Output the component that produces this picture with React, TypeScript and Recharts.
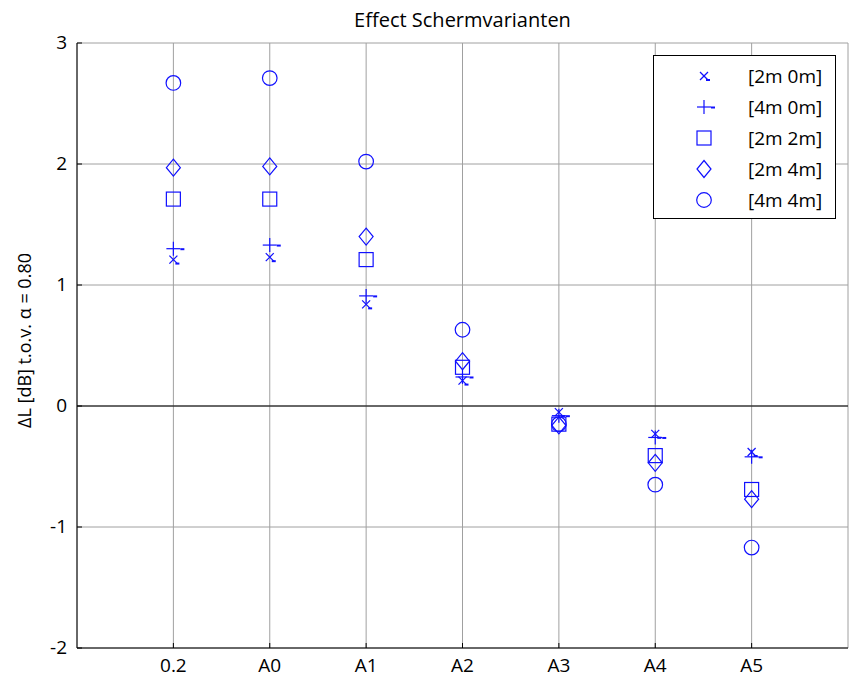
import React from "react";
import {
  ScatterChart,
  Scatter,
  XAxis,
  YAxis,
  CartesianGrid,
  ReferenceLine,
  Label,
} from "recharts";

const categories = ["0.2", "A0", "A1", "A2", "A3", "A4", "A5"];
const xTicks = [1, 2, 3, 4, 5, 6, 7];
const yTicks = [-2, -1, 0, 1, 2, 3];

// values, one per category
const s2m0m = [1.21, 1.23, 0.84, 0.21, -0.05, -0.23, -0.38];
const s4m0m = [1.3, 1.33, 0.91, 0.24, -0.08, -0.26, -0.42];
const s2m2m = [1.71, 1.71, 1.21, 0.32, -0.15, -0.41, -0.69];
const s2m4m = [1.97, 1.98, 1.4, 0.37, -0.16, -0.47, -0.77];
const s4m4m = [2.67, 2.71, 2.02, 0.63, -0.15, -0.65, -1.17];

const BLUE = "#1010ff";
const FONT = "'Open Sans', sans-serif";

const toPoints = (vals: number[]) =>
  categories.map((c, i) => ({ x: i + 1, y: vals[i], name: c }));

type Mark = "x" | "plus" | "square" | "diamond" | "circle";

function Marker({ cx, cy, kind }: { cx: number; cy: number; kind: Mark }) {
  const p = { stroke: BLUE, strokeWidth: 1.2, fill: "none" };
  if (kind === "x")
    return (
      <g {...p}>
        <line x1={cx - 4} y1={cy - 4} x2={cx + 4} y2={cy + 4} />
        <line x1={cx - 4} y1={cy + 4} x2={cx + 4} y2={cy - 4} />
        <line x1={cx + 2} y1={cy + 4} x2={cx + 6} y2={cy + 4} strokeWidth={2} />
      </g>
    );
  if (kind === "plus")
    return (
      <g {...p}>
        <line x1={cx - 7} y1={cy} x2={cx + 7} y2={cy} />
        <line x1={cx} y1={cy - 7} x2={cx} y2={cy + 7} />
        <line x1={cx + 7} y1={cy + 0.5} x2={cx + 11} y2={cy + 0.5} strokeWidth={2} />
      </g>
    );
  if (kind === "square")
    return <rect x={cx - 7} y={cy - 7} width={14} height={14} {...p} />;
  if (kind === "diamond")
    return (
      <polygon
        points={`${cx},${cy - 8.5} ${cx + 7},${cy} ${cx},${cy + 8.5} ${cx - 7},${cy}`}
        {...p}
      />
    );
  return <circle cx={cx} cy={cy} r={7.3} {...p} />;
}

const shapeOf = (kind: Mark) => (props: any) =>
  <Marker cx={props.cx} cy={props.cy} kind={kind} />;

function BottomTick({ x, y, payload }: any) {
  return (
    <g>
      <line x1={x} y1={y} x2={x} y2={y - 5} stroke="#000" />
      <text
        x={x}
        y={y + 24}
        textAnchor="middle"
        fontSize={19}
        fontFamily={FONT}
        fill="#000"
      >
        {categories[payload.value - 1]}
      </text>
    </g>
  );
}

function TopTick({ x, y }: any) {
  return <line x1={x} y1={y} x2={x} y2={y + 5} stroke="#000" />;
}

function LeftTick({ x, y, payload }: any) {
  return (
    <g>
      <line x1={x} y1={y} x2={x + 5} y2={y} stroke="#000" />
      <text
        x={x - 10}
        y={y + 6}
        textAnchor="end"
        fontSize={19}
        fontFamily={FONT}
        fill="#000"
      >
        {payload.value}
      </text>
    </g>
  );
}

function RightTick({ x, y }: any) {
  return <line x1={x} y1={y} x2={x - 5} y2={y} stroke="#000" />;
}

const legendItems: { label: string; kind: Mark }[] = [
  { label: "[2m 0m]", kind: "x" },
  { label: "[4m 0m]", kind: "plus" },
  { label: "[2m 2m]", kind: "square" },
  { label: "[2m 4m]", kind: "diamond" },
  { label: "[4m 4m]", kind: "circle" },
];

export default function App() {
  return (
    <div
      style={{
        position: "absolute",
        left: 0,
        top: 0,
        width: 852,
        height: 678,
        background: "#fff",
        fontFamily: FONT,
      }}
    >
      {/* Title */}
      <div
        style={{
          position: "absolute",
          left: 77,
          width: 771,
          top: 6,
          textAlign: "center",
          fontSize: 20,
          lineHeight: "28px",
          color: "#000",
        }}
      >
        Effect Schermvarianten
      </div>

      <ScatterChart
        width={852}
        height={678}
        margin={{ top: 43, right: 4, bottom: 0, left: 0 }}
      >
        <CartesianGrid stroke="#a0a0a0" strokeWidth={1} />
        <XAxis
          type="number"
          dataKey="x"
          domain={[0, 8]}
          ticks={xTicks}
          interval={0}
          height={30}
          tickSize={0}
          tickMargin={0}
          tickLine={false}
          axisLine={{ stroke: "#000" }}
          tick={<BottomTick />}
        />
        <XAxis
          xAxisId="top"
          orientation="top"
          type="number"
          dataKey="x"
          domain={[0, 8]}
          ticks={xTicks}
          interval={0}
          height={0}
          tickSize={0}
          tickMargin={0}
          tickLine={false}
          axisLine={{ stroke: "#000" }}
          tick={<TopTick />}
        />
        <YAxis
          type="number"
          dataKey="y"
          domain={[-2, 3]}
          ticks={yTicks}
          interval={0}
          width={77}
          tickSize={0}
          tickMargin={0}
          tickLine={false}
          axisLine={{ stroke: "#000" }}
          tick={<LeftTick />}
        >
          <Label
            content={({ viewBox }: any) => {
              const cx = viewBox.x + 26;
              const cy = viewBox.y + viewBox.height / 2 - 5;
              return (
                <text
                  x={cx}
                  y={cy}
                  transform={`rotate(-90 ${cx} ${cy})`}
                  textAnchor="middle"
                  dominantBaseline="middle"
                  fontSize={18}
                  fontFamily={FONT}
                  fill="#000"
                >
                  ΔL [dB] t.o.v. α = 0.80
                </text>
              );
            }}
          />
        </YAxis>
        <YAxis
          yAxisId="right"
          orientation="right"
          type="number"
          dataKey="y"
          domain={[-2, 3]}
          ticks={yTicks}
          interval={0}
          width={0}
          tickSize={0}
          tickMargin={0}
          tickLine={false}
          axisLine={{ stroke: "#000" }}
          tick={<RightTick />}
        />
        <ReferenceLine y={0} stroke="#000" strokeWidth={1} />
        <Scatter data={toPoints(s2m0m)} shape={shapeOf("x")} isAnimationActive={false} />
        <Scatter data={toPoints(s4m0m)} shape={shapeOf("plus")} isAnimationActive={false} />
        <Scatter data={toPoints(s2m2m)} shape={shapeOf("square")} isAnimationActive={false} />
        <Scatter data={toPoints(s2m4m)} shape={shapeOf("diamond")} isAnimationActive={false} />
        <Scatter data={toPoints(s4m4m)} shape={shapeOf("circle")} isAnimationActive={false} />
      </ScatterChart>

      {/* Legend */}
      <div
        style={{
          position: "absolute",
          left: 653,
          top: 55,
          width: 181,
          height: 162,
          border: "1px solid #000",
          background: "#fff",
        }}
      >
        {legendItems.map((it, i) => (
          <div
            key={it.label}
            style={{
              position: "absolute",
              left: 0,
              top: 5 + i * 31,
              height: 30,
              width: 181,
              display: "flex",
              alignItems: "center",
            }}
          >
            <svg width={94} height={30} style={{ flex: "none" }}>
              <Marker cx={50} cy={15} kind={it.kind} />
            </svg>
            <span style={{ fontSize: 19, color: "#000", whiteSpace: "nowrap" }}>
              {it.label}
            </span>
          </div>
        ))}
      </div>
    </div>
  );
}
